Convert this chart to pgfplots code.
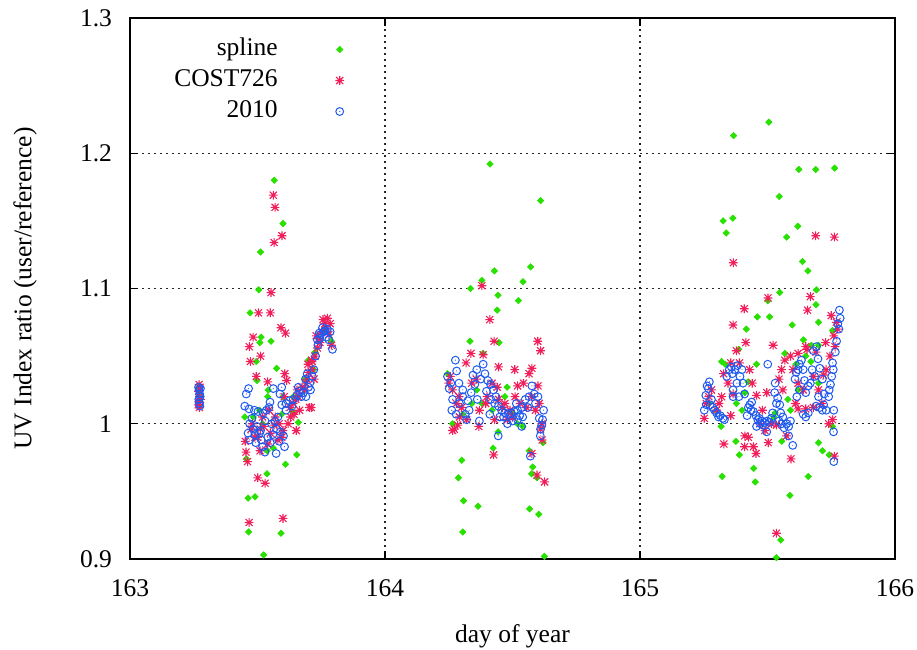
\documentclass[border=0pt]{standalone}
\usepackage{fontspec}
\setmainfont{Liberation Serif}
\usepackage{pgfplots}
\pgfplotsset{compat=1.18}
\definecolor{cspline}{RGB}{40,225,0}
\definecolor{ccost}{RGB}{240,30,90}
\definecolor{cnew}{RGB}{30,90,240}
\pgfdeclareplotmark{gpdiam}{%
  \pgfpathmoveto{\pgfqpoint{\pgfplotmarksize}{0pt}}%
  \pgfpathlineto{\pgfqpoint{0pt}{\pgfplotmarksize}}%
  \pgfpathlineto{\pgfqpoint{-\pgfplotmarksize}{0pt}}%
  \pgfpathlineto{\pgfqpoint{0pt}{-\pgfplotmarksize}}%
  \pgfpathclose\pgfusepathqfillstroke}
\pgfdeclareplotmark{gpstar}{%
  \pgfpathmoveto{\pgfqpoint{-\pgfplotmarksize}{0pt}}\pgfpathlineto{\pgfqpoint{\pgfplotmarksize}{0pt}}%
  \pgfpathmoveto{\pgfqpoint{0pt}{-\pgfplotmarksize}}\pgfpathlineto{\pgfqpoint{0pt}{\pgfplotmarksize}}%
  \pgfpathmoveto{\pgfqpoint{-.8\pgfplotmarksize}{-.8\pgfplotmarksize}}\pgfpathlineto{\pgfqpoint{.8\pgfplotmarksize}{.8\pgfplotmarksize}}%
  \pgfpathmoveto{\pgfqpoint{-.8\pgfplotmarksize}{.8\pgfplotmarksize}}\pgfpathlineto{\pgfqpoint{.8\pgfplotmarksize}{-.8\pgfplotmarksize}}%
  \pgfusepathqstroke}
\pgfdeclareplotmark{gpcirc}{%
  \pgfpathcircle{\pgfpointorigin}{\pgfplotmarksize}\pgfusepathqstroke
  \pgfpathcircle{\pgfpointorigin}{0.3pt}\pgfusepathqfill}
\begin{document}
\begin{tikzpicture}
\begin{axis}[
  scale only axis, width=382.5pt, height=270.5pt,
  xmin=163, xmax=166, ymin=0.9, ymax=1.3,
  xtick={163,164,165,166}, ytick={0.9,1.0,1.1,1.2,1.3},
  /pgf/number format/assume math mode=true,
  tick label style={font=\fontsize{12.75}{15}\selectfont, black},
  yticklabel style={xshift=-5.5pt},
  xticklabel style={yshift=-7pt},
  label style={font=\fontsize{12.75}{15}\selectfont},
  xlabel={day of year}, ylabel={UV Index ratio (user/reference)},
  xlabel style={at={(axis description cs:0.5,0)}, anchor=center, yshift=-38.5pt},
  ylabel style={at={(axis description cs:0,0.5)}, anchor=center, yshift=52.5pt},
  axis line style={black, line width=0.6pt},
  tick pos=both, tick align=inside, major tick length=4pt,
  tick style={black, line width=0.6pt},
  grid=major, major grid style={black!85, line width=0.6pt, dash pattern=on 1pt off 2pt},
  legend plot pos=right, legend cell align=right,
  legend image code/.code={\path[draw=none,fill=none] (0pt,-1pt) rectangle (33pt,1pt); \draw[#1] plot coordinates {(30pt,0pt)};},
  legend style={draw=none, fill=none, inner sep=0pt, outer sep=0pt,
    at={(axis description cs:0.282,0.9676)}, anchor=north east,
    font=\fontsize{12.75}{15}\selectfont, row sep=1.5pt,
    nodes={inner sep=1pt, text height=9pt, text depth=3pt}},
]
\addplot[only marks, mark=gpdiam, mark size=1.6pt, color=cspline, mark options={line width=0.3pt}] table {
x y
163.270 1.025
163.272 1.021
163.274 1.017
163.271 1.013
163.273 1.028
163.566 1.180
163.600 1.148
163.512 1.127
163.505 1.099
163.471 1.082
163.514 1.064
163.509 1.060
163.553 1.061
163.495 1.046
163.575 1.041
163.498 1.032
163.542 1.025
163.540 1.020
163.450 1.005
163.660 1.001
163.562 0.982
163.654 0.977
163.610 0.970
163.537 0.963
163.490 0.946
163.463 0.945
163.465 0.920
163.592 0.919
163.524 0.903
163.456 0.974
163.726 1.053
163.790 1.061
163.720 1.040
163.508 1.010
163.483 1.005
163.538 0.980
163.637 1.009
163.595 1.007
163.686 1.033
163.760 1.068
163.700 1.047
163.745 1.062
163.640 1.020
163.765 1.070
163.520 1.000
163.600 1.020
164.412 1.192
164.610 1.165
164.429 1.113
164.380 1.106
164.571 1.116
164.541 1.105
164.335 1.100
164.443 1.095
164.523 1.091
164.440 1.084
164.333 1.061
164.447 1.060
164.265 1.000
164.301 0.973
164.288 0.960
164.308 0.943
164.365 0.939
164.305 0.920
164.566 0.980
164.579 0.968
164.575 0.963
164.596 0.960
164.567 0.937
164.603 0.933
164.625 0.902
164.620 0.986
164.479 1.027
164.444 0.994
164.385 1.052
164.245 1.037
164.540 0.998
164.424 0.982
164.380 1.015
164.420 1.010
164.340 1.015
164.305 1.007
164.470 1.020
164.500 1.008
164.360 1.025
164.520 1.000
165.505 1.223
165.367 1.213
165.623 1.188
165.689 1.188
165.763 1.189
165.546 1.168
165.326 1.150
165.364 1.152
165.338 1.141
165.619 1.146
165.575 1.138
165.637 1.120
165.658 1.113
165.548 1.097
165.692 1.099
165.690 1.088
165.501 1.091
165.460 1.079
165.508 1.079
165.597 1.073
165.417 1.070
165.700 1.075
165.641 1.062
165.672 1.058
165.568 1.052
165.387 1.055
165.334 1.044
165.457 1.044
165.424 1.031
165.411 1.023
165.378 1.015
165.318 0.998
165.376 0.987
165.390 0.977
165.322 0.961
165.446 0.967
165.452 0.957
165.556 0.987
165.588 0.947
165.700 0.986
165.716 0.980
165.742 0.977
165.660 0.961
165.552 0.914
165.535 0.901
165.612 1.044
165.650 1.050
165.670 1.046
165.700 1.058
165.755 1.069
165.580 1.018
165.590 1.010
165.530 1.008
165.525 1.005
165.755 0.998
165.320 1.046
165.270 1.015
165.300 1.010
165.400 1.010
165.620 1.025
165.700 1.030
};
\addlegendentry{spline}
\addplot[only marks, mark=gpstar, mark size=2.2pt, color=ccost, mark options={line width=0.55pt}] table {
x y
163.269 1.024
163.271 1.029
163.273 1.020
163.270 1.016
163.272 1.012
163.274 1.027
163.276 1.018
163.268 1.014
163.562 1.169
163.569 1.160
163.596 1.139
163.565 1.134
163.553 1.097
163.504 1.082
163.550 1.082
163.592 1.071
163.610 1.067
163.483 1.064
163.468 1.057
163.512 1.050
163.472 1.046
163.495 1.035
163.540 1.031
163.607 1.037
163.614 1.032
163.652 0.995
163.452 0.987
163.455 0.979
163.461 0.972
163.501 0.960
163.530 0.956
163.510 0.980
163.467 0.927
163.600 0.930
163.704 1.012
163.714 1.046
163.511 0.996
163.550 0.993
163.565 0.999
163.580 0.988
163.628 1.012
163.640 1.015
163.643 1.007
163.660 1.020
163.675 1.027
163.694 1.033
163.715 1.040
163.698 1.044
163.712 1.047
163.722 1.033
163.711 1.012
163.690 1.030
163.685 1.025
163.665 1.010
163.650 1.018
163.630 1.005
163.620 1.000
163.774 1.078
163.764 1.074
163.785 1.074
163.752 1.068
163.790 1.058
163.745 1.060
163.740 1.063
163.770 1.070
163.780 1.066
163.757 1.077
163.735 1.056
163.725 1.050
163.490 0.990
163.475 0.996
163.520 1.005
163.545 1.010
163.585 1.000
163.600 0.995
163.480 1.000
163.500 0.990
163.525 0.998
163.540 0.985
163.570 1.005
163.595 0.990
163.605 1.020
163.655 1.025
163.700 1.038
163.730 1.065
164.380 1.102
164.411 1.077
164.428 1.061
164.599 1.061
164.610 1.054
164.337 1.052
164.385 1.051
164.318 1.045
164.445 1.042
164.509 1.040
164.576 1.041
164.565 1.037
164.358 1.033
164.543 1.030
164.600 1.028
164.256 1.035
164.265 1.025
164.280 1.015
164.292 1.005
164.300 1.012
164.320 1.003
164.370 1.010
164.400 1.020
164.440 1.027
164.445 1.018
164.460 1.012
164.395 1.015
164.368 0.998
164.272 0.996
164.285 0.999
164.510 1.020
164.530 1.015
164.555 1.012
164.590 1.010
164.615 1.000
164.610 0.996
164.616 0.988
164.426 0.977
164.576 0.978
164.596 0.962
164.626 0.957
164.430 1.003
164.480 1.003
164.500 1.005
164.265 0.995
164.250 1.030
164.290 1.020
164.340 1.030
164.420 1.030
164.470 1.015
164.490 1.010
164.520 1.028
164.575 1.020
164.605 1.015
165.689 1.139
165.762 1.138
165.366 1.119
165.502 1.093
165.668 1.094
165.409 1.085
165.657 1.084
165.365 1.073
165.415 1.060
165.522 1.058
165.378 1.054
165.765 1.057
165.650 1.057
165.356 1.045
165.328 1.037
165.568 1.047
165.590 1.050
165.620 1.052
165.655 1.055
165.690 1.053
165.728 1.060
165.555 1.040
165.545 1.033
165.600 1.040
165.620 1.030
165.640 1.025
165.680 1.035
165.720 1.036
165.320 1.020
165.365 1.022
165.457 1.021
165.497 1.023
165.252 1.004
165.356 1.006
165.515 1.000
165.535 0.999
165.620 1.011
165.650 1.011
165.680 1.012
165.713 1.015
165.740 1.000
165.755 1.003
165.411 0.991
165.425 0.990
165.410 0.983
165.445 0.983
165.455 0.978
165.329 0.985
165.503 0.986
165.575 0.991
165.592 0.974
165.762 0.976
165.535 0.919
165.260 1.015
165.280 1.025
165.300 1.010
165.440 1.030
165.480 1.010
165.750 1.080
165.770 1.075
165.775 1.070
165.760 1.065
165.270 1.020
165.310 1.015
165.345 1.030
165.390 1.045
165.430 1.040
165.470 1.000
165.490 0.995
165.560 1.025
165.610 1.015
165.700 1.025
165.730 1.040
165.745 1.050
};
\addlegendentry{COST726}
\addplot[only marks, mark=gpcirc, mark size=1.95pt, color=cnew, mark options={line width=0.5pt}] table {
x y
163.269 1.027
163.271 1.025
163.273 1.022
163.270 1.018
163.272 1.015
163.274 1.013
163.276 1.026
163.275 1.020
163.465 1.026
163.456 1.022
163.450 1.013
163.467 1.011
163.562 1.026
163.595 1.027
163.588 1.022
163.549 1.016
163.545 1.012
163.535 1.010
163.522 1.008
163.502 1.009
163.469 1.000
163.483 0.996
163.463 0.993
163.490 0.992
163.508 0.993
163.493 0.986
163.515 0.988
163.529 0.979
163.569 1.002
163.575 0.996
163.590 0.994
163.602 0.991
163.606 0.983
163.573 0.978
163.550 0.986
163.540 0.990
163.530 1.002
163.595 1.014
163.612 1.015
163.625 1.017
163.635 1.013
163.655 1.021
163.665 1.024
163.680 1.023
163.690 1.020
163.708 1.025
163.688 1.033
163.705 1.030
163.721 1.040
163.715 1.035
163.700 1.027
163.737 1.058
163.735 1.062
163.748 1.066
163.760 1.068
163.774 1.070
163.785 1.068
163.794 1.055
163.780 1.062
163.765 1.069
163.745 1.063
163.755 1.071
163.478 1.004
163.488 1.010
163.498 0.998
163.512 0.995
163.520 0.983
163.555 1.000
163.560 0.992
163.580 1.005
163.585 0.987
163.470 0.988
163.612 1.010
163.640 1.018
163.660 1.027
163.672 1.020
163.695 1.037
163.728 1.050
163.742 1.067
163.770 1.064
164.276 1.047
164.281 1.039
164.245 1.035
164.252 1.026
164.265 1.018
164.279 1.007
164.305 1.025
164.305 1.020
164.292 1.015
164.315 1.007
164.338 1.023
164.352 1.029
164.345 1.036
164.385 1.044
164.392 1.037
164.403 1.032
164.414 1.029
164.425 1.025
164.415 1.018
164.430 1.015
164.445 1.013
164.457 1.010
164.470 1.008
164.485 1.007
164.495 1.008
164.507 1.009
164.520 1.010
164.537 1.012
164.550 1.018
164.565 1.020
164.576 1.028
164.585 1.022
164.600 1.020
164.622 1.010
164.605 1.004
164.615 0.999
164.610 0.996
164.609 0.991
164.444 0.991
164.411 1.007
164.370 1.002
164.536 0.998
164.570 0.976
164.362 1.018
164.330 1.010
164.320 1.003
164.465 1.005
164.480 1.000
164.500 1.002
164.520 1.003
164.540 1.005
164.258 1.030
164.262 1.010
164.290 1.030
164.325 1.017
164.360 1.040
164.375 1.033
164.398 1.024
164.435 1.020
164.450 1.005
164.515 1.015
164.528 1.006
164.560 1.012
164.590 1.015
164.618 1.003
165.272 1.031
165.268 1.026
165.258 1.021
165.260 1.014
165.252 1.010
165.275 1.014
165.285 1.012
165.300 1.008
165.315 1.006
165.325 1.004
165.331 1.003
165.358 1.042
165.372 1.040
165.362 1.037
165.382 1.043
165.400 1.040
165.404 1.030
165.380 1.030
165.365 1.025
165.388 1.020
165.365 1.020
165.420 1.006
165.430 1.014
165.438 1.016
165.435 1.010
165.445 1.009
165.455 1.006
165.468 1.004
165.478 1.002
165.488 1.001
165.498 1.002
165.508 1.001
165.515 1.004
165.457 0.998
165.497 0.994
165.501 1.044
165.530 1.030
165.528 1.023
165.540 1.019
165.548 1.014
165.552 1.008
165.555 1.000
165.545 1.002
165.565 0.997
165.583 0.998
165.583 0.991
165.599 0.984
165.608 1.033
165.612 1.038
165.625 1.044
165.633 1.047
165.615 1.020
165.625 1.025
165.645 1.032
165.650 1.023
165.668 1.030
165.680 1.054
165.692 1.057
165.698 1.048
165.705 1.041
165.715 1.033
165.722 1.022
165.720 1.014
165.715 1.010
165.705 1.012
165.690 1.013
165.660 1.008
165.650 1.005
165.640 1.007
165.747 1.029
165.752 1.035
165.758 1.040
165.766 1.053
165.771 1.061
165.780 1.070
165.785 1.078
165.782 1.084
165.776 1.074
165.759 0.994
165.760 0.972
165.760 1.010
165.740 1.020
165.263 1.028
165.280 1.018
165.292 1.010
165.308 1.005
165.340 1.035
165.350 1.040
165.392 1.035
165.410 1.022
165.425 1.012
165.462 1.003
165.472 1.000
165.482 0.999
165.520 1.008
165.535 1.015
165.560 1.005
165.575 1.000
165.590 1.002
165.620 1.040
165.640 1.040
165.660 1.028
165.675 1.040
165.685 1.035
165.700 1.020
165.730 1.010
165.742 1.025
165.755 1.045
};
\addlegendentry{2010}
\end{axis}
\pgfresetboundingbox
\path ([shift={(-65pt,-45.5pt)}]current axis.south west) rectangle ([shift={(11pt,9pt)}]current axis.north east);
\end{tikzpicture}
\end{document}
